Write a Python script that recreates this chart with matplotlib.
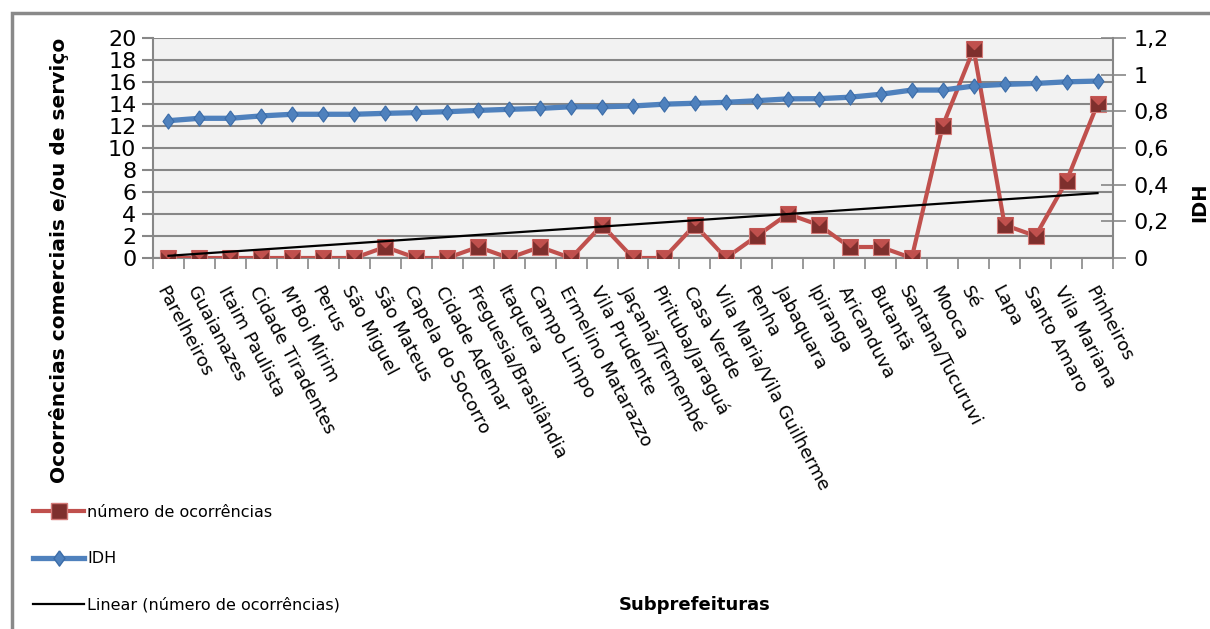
import numpy as np
import matplotlib.pyplot as plt
from matplotlib.patches import Rectangle
from matplotlib.lines import Line2D

# Subprefeituras ordered by IDH
subprefeituras = ["Parelheiros", "Guaianazes", "Itaim Paulista", "Cidade Tiradentes",
                  "M'Boi Mirim", "Perus", "São Miguel", "São Mateus", "Capela do Socorro",
                  "Cidade Ademar", "Freguesia/Brasilândia", "Itaquera", "Campo Limpo",
                  "Ermelino Matarazzo", "Vila Prudente", "Jaçanã/Tremembé", "Pirituba/Jaraguá",
                  "Casa Verde", "Vila Maria/Vila Guilherme", "Penha", "Jabaquara", "Ipiranga",
                  "Aricanduva", "Butantã", "Santana/Tucuruvi", "Mooca", "Sé", "Lapa",
                  "Santo Amaro", "Vila Mariana", "Pinheiros"]

# número de ocorrências comerciais e/ou de serviço
ocorrencias = [0, 0, 0, 0, 0, 0, 0, 1, 0, 0, 1, 0, 1, 0, 3, 0, 0, 3, 0, 2, 4, 3,
               1, 1, 0, 12, 19, 3, 2, 7, 14]

# IDH
idh = [0.749, 0.762, 0.762, 0.775, 0.784, 0.784, 0.784, 0.789, 0.793, 0.798, 0.805,
       0.811, 0.816, 0.825, 0.825, 0.829, 0.839, 0.844, 0.849, 0.858, 0.868, 0.869,
       0.877, 0.893, 0.916, 0.916, 0.938, 0.947, 0.952, 0.961, 0.965]

# linear trend of occurrences, value at first and last subprefeitura
tendencia = [0.2, 5.9]

red = '#C0504D'
red_dark = '#7E2F2D'
blue = '#4F81BD'
grid_gray = '#878787'

x = np.arange(len(subprefeituras))

fig = plt.figure(figsize=(12.10, 6.29), dpi=100)
ax = fig.add_axes([153/1210, 1 - 258/629, 960/1210, 220/629])
ax.set_facecolor('#F2F2F2')

# square marker with a lighter upper half (Excel-like shading)
tri_top = [(-1, 1), (1, 1), (0, 0), (-1, 1)]
ax.plot(x, ocorrencias, color=red, lw=3, zorder=3,
        marker='s', markersize=11, markerfacecolor=red_dark, markeredgecolor='#D47A77',
        markeredgewidth=0.8)
ax.plot(x, ocorrencias, lw=0, marker=tri_top, markersize=11, color=red, zorder=3.1)

ax.plot([x[0], x[-1]], tendencia, color='black', lw=1.6, zorder=5)

ax.set_xlim(-0.5, len(subprefeituras) - 0.5)
ax.set_ylim(0, 20)
ax.set_yticks(range(0, 21, 2))
ax.yaxis.grid(True, color=grid_gray, lw=1.5)
ax.set_axisbelow(True)
ax.tick_params(axis='y', length=8, width=1.5, color=grid_gray, labelsize=16, pad=4)

ax.set_xticks(x)
ax.set_xticklabels(subprefeituras, rotation=-62, ha='left', va='top',
                   rotation_mode='anchor', fontsize=13)
ax.set_xticks(np.arange(-0.5, len(subprefeituras)), minor=True)
ax.tick_params(axis='x', which='major', length=0, pad=18)
ax.tick_params(axis='x', which='minor', length=8, width=1.2, color=grid_gray)

for side in ['left', 'bottom', 'right']:
    ax.spines[side].set_color(grid_gray)
    ax.spines[side].set_linewidth(1.5)
ax.spines['top'].set_visible(False)

# IDH on secondary axis
ax2 = ax.twinx()
diamond = [(0, 1), (0.72, 0), (0, -1), (-0.72, 0), (0, 1)]
ax2.plot(x, idh, color=blue, lw=3.8, marker=diamond, markersize=11,
         markerfacecolor=blue, markeredgecolor='#3B6CA8', markeredgewidth=0.8, zorder=4)
ax2.set_ylim(0, 1.2)
ax2.set_yticks(np.arange(0, 1.21, 0.2))
ax2.set_yticklabels(['0', '0,2', '0,4', '0,6', '0,8', '1', '1,2'])
ax2.tick_params(axis='y', direction='inout', length=18, width=1.2, color=grid_gray,
                labelsize=16, pad=6)
for side in ['left', 'bottom', 'right', 'top']:
    ax2.spines[side].set_visible(False)

ax.set_ylabel('Ocorrências comerciais e/ou de serviço', fontsize=14.5, fontweight='bold')
ax.yaxis.set_label_coords(-0.088, -0.01)
ax2.set_ylabel('IDH', fontsize=14, fontweight='bold', rotation=90)
ax2.yaxis.set_label_coords(1.08, 0.255)

fig.text(695/1210, 1 - 605/629, 'Subprefeituras', fontsize=13, fontweight='bold',
         ha='center', va='center')

handles = [
    Line2D([], [], color=red, lw=3, marker='s', markersize=11,
           markerfacecolor=red_dark, markeredgecolor='#D47A77'),
    Line2D([], [], color=blue, lw=3.8, marker=diamond, markersize=11,
           markerfacecolor=blue, markeredgecolor='#3B6CA8'),
    Line2D([], [], color='black', lw=1.6),
]
fig.legend(handles, ['número de ocorrências', 'IDH', 'Linear (número de ocorrências)'],
           loc='upper left', bbox_to_anchor=(33/1210, 1 - 505/629), frameon=False,
           fontsize=11.5, handlelength=3.2, handletextpad=0.2, labelspacing=1.95,
           borderpad=0, borderaxespad=0)

# outer chart border
fig.patches.append(Rectangle((12/1210, -0.2), 1.5, 1.2 - 13/629, transform=fig.transFigure,
                             fill=False, edgecolor='#898989', lw=2.5))

fig.savefig('out.png', dpi=100)
